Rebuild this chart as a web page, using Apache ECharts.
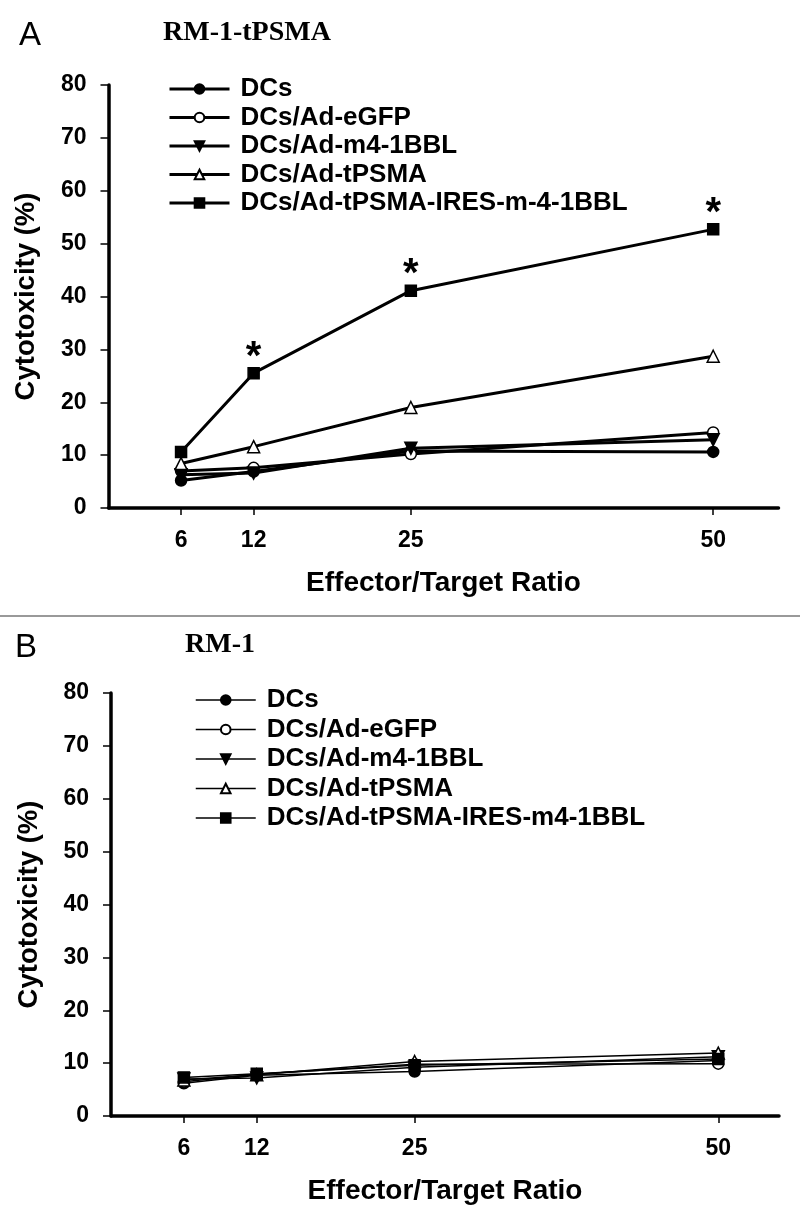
<!DOCTYPE html>
<html>
<head>
<meta charset="utf-8">
<script src="https://cdn.jsdelivr.net/npm/echarts@6/dist/echarts.min.js"></script>
<style>
html,body{margin:0;padding:0;background:#fff;}
#chart{width:800px;height:1217px;}
</style>
</head>
<body>
<div id="chart"></div>
<script>
// ---- data ----
const ratios = [6, 12, 25, 50];
const namesA = ['DCs', 'DCs/Ad-eGFP', 'DCs/Ad-m4-1BBL', 'DCs/Ad-tPSMA', 'DCs/Ad-tPSMA-IRES-m-4-1BBL'];
const namesB = ['DCs', 'DCs/Ad-eGFP', 'DCs/Ad-m4-1BBL', 'DCs/Ad-tPSMA', 'DCs/Ad-tPSMA-IRES-m4-1BBL'];
const yTicks = [0, 10, 20, 30, 40, 50, 60, 70, 80];

// Panel A (RM-1-tPSMA), cytotoxicity %
const dcsA   = [5.2, 6.9, 10.8, 10.6];
const egfpA  = [7.0, 7.6, 10.2, 14.3];
const m4A    = [6.3, 6.6, 11.3, 12.9];
const tpsmaA = [8.4, 11.6, 19.0, 28.7];
const iresA  = [10.6, 25.5, 41.1, 52.7];
const sigA   = [false, true, true, true]; // asterisks on IRES series

// Panel B (RM-1), cytotoxicity %
const dcsB   = [6.2, 7.7, 8.4, 10.5];
const egfpB  = [6.5, 7.9, 9.8, 9.9];
const m4B    = [7.0, 7.2, 9.2, 11.2];
const tpsmaB = [6.8, 7.8, 10.3, 11.9];
const iresB  = [7.3, 8.0, 9.6, 10.8];

// ---- styles ----
const SANS = 'Liberation Sans, Arial, sans-serif';
const SERIF = 'Liberation Serif, Times New Roman, serif';
const markerStyles = [
  {symbol: 'circle', symbolSize: 11, fill: '#000', rotate: 0},
  {symbol: 'circle', symbolSize: 11, fill: '#fff', rotate: 0},
  {symbol: 'triangle', symbolSize: 12, fill: '#000', rotate: 180},
  {symbol: 'triangle', symbolSize: 12, fill: '#fff', rotate: 0},
  {symbol: 'rect', symbolSize: 11, fill: '#000', rotate: 0}
];

function makeSeries(names, arrays, gridIdx, lineW, sig) {
  return arrays.map((arr, i) => {
    const m = markerStyles[i];
    const data = arr.map((v, j) => {
      const item = {value: [ratios[j], v]};
      if (sig && i === 4 && sig[j]) {
        item.label = {show: true, formatter: '*', position: 'top', distance: -11,
          fontSize: 40, fontWeight: 'bold', fontFamily: SANS, color: '#000'};
      }
      return item;
    });
    return {
      name: names[i],
      type: 'line',
      xAxisIndex: gridIdx, yAxisIndex: gridIdx,
      data: data,
      symbol: m.symbol,
      symbolSize: m.symbolSize,
      symbolRotate: m.rotate,
      showAllSymbol: true,
      lineStyle: {color: '#000', width: lineW},
      itemStyle: {color: m.fill, borderColor: '#000', borderWidth: 1.5},
      label: {show: false},
      emphasis: {disabled: true},
      z: 3 + i
    };
  });
}

function xAxisCfg(gridIdx, max) {
  return {
    type: 'value', gridIndex: gridIdx, min: 0, max: max,
    name: 'Effector/Target Ratio', nameLocation: 'middle', nameGap: 61,
    nameTextStyle: {fontSize: 28, fontWeight: 'bold', fontFamily: SANS, color: '#000'},
    axisLine: {show: true, onZero: false, lineStyle: {color: '#000', width: 3.5}},
    axisTick: {show: true, customValues: ratios, length: 7, lineStyle: {color: '#000', width: 1.5}},
    axisLabel: {show: true, customValues: ratios, margin: 21, fontSize: 23, fontWeight: 'bold',
      fontFamily: SANS, color: '#000'},
    splitLine: {show: false}
  };
}
function yAxisCfg(gridIdx) {
  return {
    type: 'value', gridIndex: gridIdx, min: yTicks[0], max: yTicks[yTicks.length - 1], interval: 10,
    name: 'Cytotoxicity (%)', nameLocation: 'middle', nameGap: 68,
    nameTextStyle: {fontSize: 27.5, fontWeight: 'bold', fontFamily: SANS, color: '#000'},
    axisLine: {show: true, onZero: false, lineStyle: {color: '#000', width: 3.5}},
    axisTick: {show: true, length: 8, lineStyle: {color: '#000', width: 1.5}},
    axisLabel: {margin: 22, fontSize: 23, fontWeight: 'bold', fontFamily: SANS, color: '#000'},
    splitLine: {show: false}
  };
}

const legendText = {fontSize: 26, fontWeight: 'bold', fontFamily: SANS, color: '#000', lineHeight: 24, padding: [0, 0, 0, 6]};

const option = {
  animation: false,
  backgroundColor: '#fff',
  grid: [
    {left: 108.5, top: 85, width: 670, height: 423},
    {left: 111, top: 693, width: 668, height: 423}
  ],
  xAxis: [xAxisCfg(0, 55.4), xAxisCfg(1, 55)],
  yAxis: [yAxisCfg(0), yAxisCfg(1)],
  legend: [
    {
      orient: 'vertical', left: 163, top: 71, itemWidth: 60, itemHeight: 12, itemGap: 2.5,
      selectedMode: false, textStyle: legendText,
      data: namesA.map(n => ({name: n, lineStyle: {width: 3}}))
    },
    {
      orient: 'vertical', left: 190, top: 682, itemWidth: 60, itemHeight: 12, itemGap: 3.5,
      selectedMode: false, textStyle: legendText,
      data: namesB.map(n => ({name: n, lineStyle: {width: 1.5}}))
    }
  ],
  graphic: [
    {type: 'text', left: 19, top: 19, style: {text: 'A', fontSize: 33, fontFamily: SANS, fill: '#000'}},
    {type: 'text', left: 163, top: 19, style: {text: 'RM-1-tPSMA', fontSize: 28, fontWeight: 'bold', fontFamily: SERIF, fill: '#000'}},
    {type: 'line', shape: {x1: 0, y1: 616, x2: 800, y2: 616}, style: {stroke: '#999', lineWidth: 2}},
    {type: 'text', left: 15, top: 631, style: {text: 'B', fontSize: 33, fontFamily: SANS, fill: '#000'}},
    {type: 'text', left: 185, top: 631, style: {text: 'RM-1', fontSize: 28, fontWeight: 'bold', fontFamily: SERIF, fill: '#000'}}
  ],
  series: [
    ...makeSeries(namesA, [dcsA, egfpA, m4A, tpsmaA, iresA], 0, 3, sigA),
    ...makeSeries(namesB, [dcsB, egfpB, m4B, tpsmaB, iresB], 1, 1.5, null)
  ]
};

const chart = echarts.init(document.getElementById('chart'), null, {renderer: 'canvas'});
chart.setOption(option);
</script>
</body>
</html>
